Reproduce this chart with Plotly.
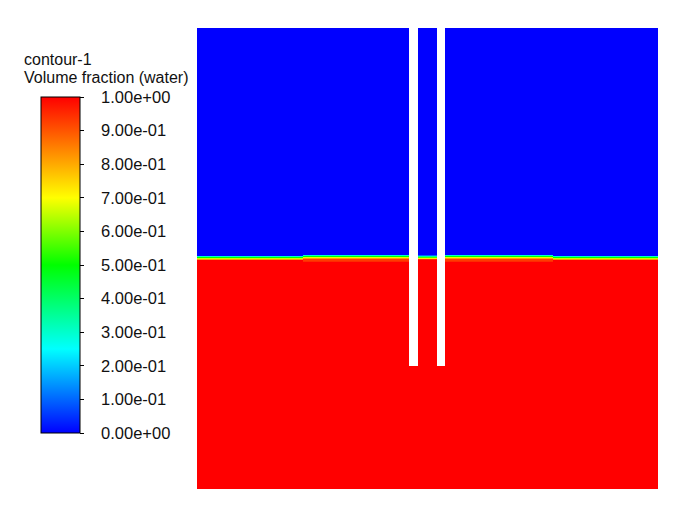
import plotly.graph_objects as go
import numpy as np

# ---- data (domain coordinates, 0..1) ----
x_edges = [0.0, 0.230, 0.460, 0.479, 0.520, 0.539, 0.772, 1.0]   # column edges (plates are cols 2 and 4)
plate_bottom = 0.267
# interface pixel rows (thin transition band), bottom -> top
band_edges = [0.4924, 0.4946, 0.4967, 0.4989, 0.5011, 0.5033, 0.5054, 0.5076, 0.5098]
# band profiles (bottom -> top), volume fraction of water
profile_outer = [1.00, 1.00, 0.82, 0.66, 0.50, 0.30, 0.00, 0.00]
profile_inner = [0.95, 0.93, 0.93, 0.82, 0.68, 0.50, 0.30, 0.00]
profile_gap   = [1.00, 1.00, 0.95, 0.72, 0.55, 0.35, 0.10, 0.00]
water_value = 1.0
air_value = 0.0
column_kind = ["outer", "inner", "plate", "gap", "plate", "inner", "outer"]

tick_vals = [0.0, 0.1, 0.2, 0.3, 0.4, 0.5, 0.6, 0.7, 0.8, 0.9, 1.0]
tick_text = ["0.00e+00", "1.00e-01", "2.00e-01", "3.00e-01", "4.00e-01", "5.00e-01",
             "6.00e-01", "7.00e-01", "8.00e-01", "9.00e-01", "1.00e+00"]

# ---- build field table ----
y_edges = [0.0, plate_bottom] + band_edges + [1.0]
profiles = {"outer": profile_outer, "inner": profile_inner, "gap": profile_gap}
nrows = len(y_edges) - 1
z = np.full((nrows, len(column_kind)), np.nan)
for j, kind in enumerate(column_kind):
    z[0, j] = water_value
    if kind == "plate":
        continue
    prof = profiles[kind]
    z[1, j] = water_value
    for k, v in enumerate(prof):
        z[2 + k, j] = v
    z[-1, j] = air_value

colorscale = [[0.0, "rgb(0,0,255)"], [0.25, "rgb(0,255,255)"], [0.5, "rgb(0,255,0)"],
              [0.7, "rgb(255,255,0)"], [1.0, "rgb(255,0,0)"]]

W, H = 684, 514
OFF = 8  # page body margin
# desired plot area in screen pixels: x 197..658, y 28..489
L, T = 197 - OFF, 28 - OFF
R = W - (658 - OFF)
B = H - (489 - OFF)
pw = W - L - R
ph = H - T - B

def px(xs):
    return (xs - 197) / pw

def py(ys):
    return (489 - ys) / ph

FONT = "Liberation Sans"

fig = go.Figure(go.Heatmap(
    x=x_edges, y=y_edges, z=z, zmin=0, zmax=1, zsmooth=False,
    colorscale=colorscale, hoverinfo="skip",
    colorbar=dict(
        x=px(41), xanchor="left", xpad=0, ypad=0,
        y=py(265), yanchor="middle",
        thickness=39, thicknessmode="pixels",
        len=336, lenmode="pixels",
        outlinewidth=1, outlinecolor="black",
        ticks="outside", ticklen=4, tickcolor="black", tickwidth=1,
        tickvals=tick_vals, ticktext=["   " + t for t in tick_text],
        tickfont=dict(family=FONT, size=16.5, color="#111111"),
    ),
))

fig.add_annotation(x=px(23), y=py(59), xref="paper", yref="paper",
                   text="contour-1", showarrow=False, xanchor="left", yanchor="middle",
                   xshift=-1, font=dict(family=FONT, size=16, color="#111111"))
fig.add_annotation(x=px(23), y=py(77), xref="paper", yref="paper",
                   text="Volume fraction (water)", showarrow=False, xanchor="left", yanchor="middle",
                   xshift=-1, font=dict(family=FONT, size=16, color="#111111"))

fig.update_layout(
    width=W, height=H, margin=dict(l=L, r=R, t=T, b=B),
    paper_bgcolor="white", plot_bgcolor="white",
    xaxis=dict(visible=False, range=[0, 1], fixedrange=True),
    yaxis=dict(visible=False, range=[0, 1], fixedrange=True),
    showlegend=False,
)
fig.write_html("out.html")
